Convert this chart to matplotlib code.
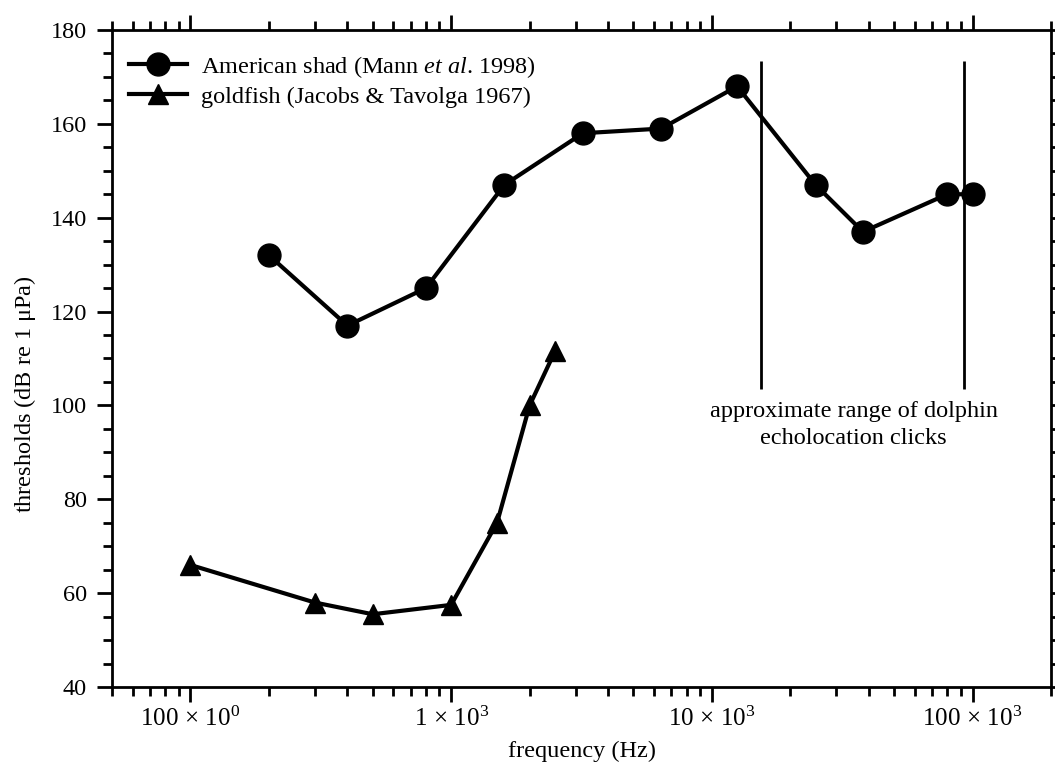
import numpy as np
import matplotlib.pyplot as plt
from matplotlib.ticker import FixedLocator, LogLocator, MultipleLocator, NullFormatter

plt.rcParams['font.family'] = ['Liberation Serif', 'DejaVu Serif']
plt.rcParams['mathtext.fontset'] = 'custom'
plt.rcParams['mathtext.rm'] = 'Liberation Serif'
plt.rcParams['mathtext.it'] = 'Liberation Serif:italic'

# American shad (Mann et al. 1998)
shad_freq = [200, 400, 800, 1600, 3200, 6400, 12500, 25000, 38000, 80000, 100000]
shad_thr = [132, 117, 125, 147, 158, 159, 168, 147, 137, 145, 145]

# goldfish (Jacobs & Tavolga 1967)
gold_freq = [100, 300, 500, 1000, 1500, 2000, 2500]
gold_thr = [66, 58, 55.5, 57.5, 75, 100, 111.5]

# dolphin click range (vertical markers)
dolphin_range = [15500, 92500]
dolphin_low, dolphin_high = 103.5, 173.5

xticks = [100, 1000, 10000, 100000]
xticklabels = [r'$100\,\times\,10^{0}$', r'$1\,\times\,10^{3}$',
               r'$10\,\times\,10^{3}$', r'$100\,\times\,10^{3}$']

fs = 17.5
fig = plt.figure(figsize=(10.55, 7.64), dpi=100)
ax = fig.add_axes([112/1055, 1-687/764, (1051-112)/1055, (687-30)/764])

ax.plot(shad_freq, shad_thr, '-o', color='black', lw=3, ms=16.5,
        label=r'American shad (Mann $et\ al$. 1998)')
ax.plot(gold_freq, gold_thr, '-^', color='black', lw=3, ms=15,
        label='goldfish (Jacobs & Tavolga 1967)')

ax.vlines(dolphin_range, dolphin_low, dolphin_high, color='black', lw=2)
ax.text(35000, 100.9, 'approximate range of dolphin\necholocation clicks',
        ha='center', va='top', fontsize=fs, linespacing=1.35)

ax.set_xscale('log')
ax.set_xlim(50, 200000)
ax.set_ylim(40, 180)
ax.xaxis.set_major_locator(FixedLocator(xticks))
ax.set_xticklabels(xticklabels)
ax.xaxis.set_minor_locator(LogLocator(base=10, subs=np.arange(2, 10)))
ax.xaxis.set_minor_formatter(NullFormatter())
ax.yaxis.set_major_locator(MultipleLocator(20))
ax.yaxis.set_minor_locator(MultipleLocator(5))

ax.tick_params(which='both', direction='out', top=True, right=True, width=2,
               labelsize=fs)
ax.tick_params(axis='x', labelsize=18)
ax.tick_params(which='major', length=11)
ax.tick_params(which='minor', length=6.5)
ax.tick_params(axis='x', pad=3)
ax.tick_params(axis='y', pad=7)
for s in ax.spines.values():
    s.set_linewidth(2)

ax.set_xlabel('frequency (Hz)', fontsize=fs, labelpad=7)
fig.text(25/1055, 1-394/764, r'thresholds (dB re 1 $\mathrm{\mu}$Pa)',
         rotation=90, ha='center', va='center', fontsize=fs)

ax.legend(loc='upper left', bbox_to_anchor=(0.0, 0.99), frameon=False,
          fontsize=fs, handlelength=2.4, handletextpad=0.55, labelspacing=0.25,
          borderaxespad=0.3)

fig.savefig('out.png', dpi=100)
